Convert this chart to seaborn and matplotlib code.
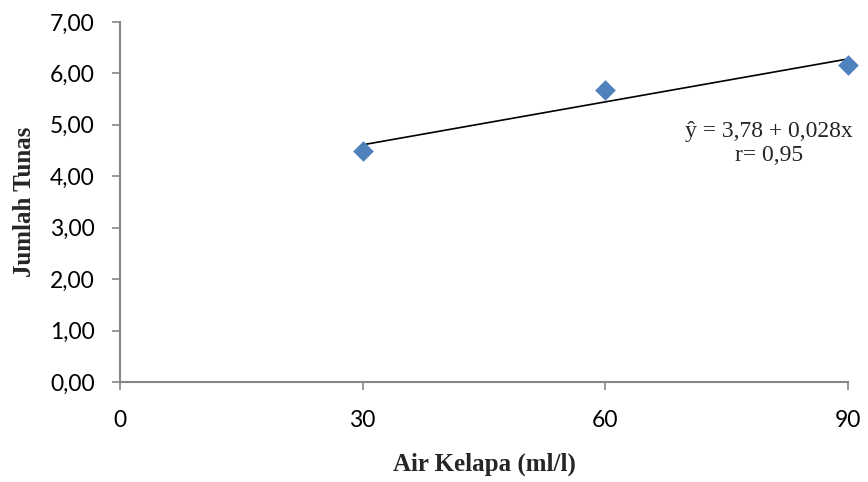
import matplotlib
matplotlib.use("Agg")
import matplotlib.pyplot as plt
import seaborn as sns
import pandas as pd

air_kelapa = [30, 60, 90]
jumlah_tunas = [4.50, 5.67, 6.17]
x_ticks = [0, 30, 60, 90]
y_ticks = [0, 1, 2, 3, 4, 5, 6, 7]
persamaan = "ŷ = 3,78 + 0,028x"
korelasi = "r= 0,95"

df = pd.DataFrame({"air": air_kelapa, "tunas": jumlah_tunas})

sns.set_style("white")
plt.rcParams["font.family"] = ["Lato", "DejaVu Sans"]

fig = plt.figure(figsize=(8.68, 4.82), dpi=100)
ax = fig.add_axes([0.1382, 0.2075, 0.8388, 0.7469])

sns.regplot(x="air", y="tunas", data=df, ax=ax, ci=None, marker="D",
            scatter_kws={"color": "#4F81BD", "s": 110, "zorder": 3,
                         "linewidths": 0, "alpha": 1, "clip_on": False},
            line_kws={"color": "black", "linewidth": 1.2, "zorder": 2})

ax.set_xlim(0, 90)
ax.set_ylim(0, 7)
ax.set_xticks(x_ticks)
ax.set_yticks(y_ticks)
ax.set_yticklabels([f"{v:.2f}".replace(".", ",") for v in y_ticks])
ax.tick_params(axis="both", labelsize=16.5, colors="black", length=6, width=1.2,
               direction="out", color="#868686", bottom=True, left=True)
ax.tick_params(axis="x", pad=14)
ax.tick_params(axis="y", pad=12)
for s in ["top", "right"]:
    ax.spines[s].set_visible(False)
for s in ["left", "bottom"]:
    ax.spines[s].set_color("#868686")
    ax.spines[s].set_linewidth(1.5)

ax.set_xlabel("Air Kelapa (ml/l)", fontsize=18, fontweight="bold",
              family="Liberation Serif", labelpad=16)
ax.set_ylabel("Jumlah Tunas", fontsize=18, fontweight="bold",
              family="Liberation Serif", labelpad=10)

ax.text(80.2, 4.88, persamaan, ha="center", va="center", fontsize=17,
        family="Liberation Serif")
ax.text(80.2, 4.40, korelasi, ha="center", va="center", fontsize=17,
        family="Liberation Serif")

fig.savefig("out.png", dpi=100)
